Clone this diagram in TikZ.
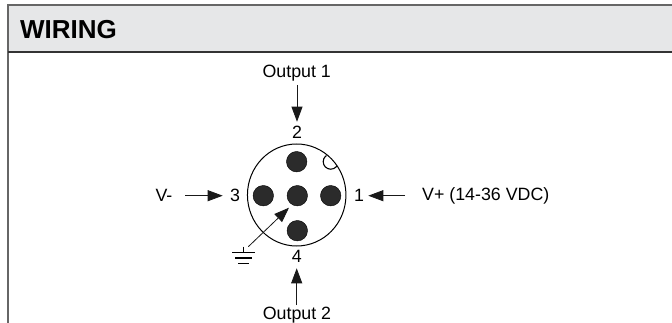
\documentclass[tikz,border=0pt]{standalone}
\usepackage{fontspec}
\setmainfont{Liberation Sans}
\usetikzlibrary{arrows.meta}
\definecolor{hdr}{HTML}{E6E7E8}
\definecolor{pin}{HTML}{2B2B2B}
\tikzset{
  lbl/.style={inner sep=0pt,font=\fontsize{17.8}{20}\selectfont,text=black},
  pinhole/.style={circle,fill=pin,draw=black,line width=0.4pt,minimum size=20.5pt,inner sep=0pt},
  lead/.style={draw=black!90,line width=0.8pt,-{Triangle[length=15pt,width=11pt]}},
  thin line/.style={draw=black,line width=1.1pt},
}
\begin{document}
\begin{tikzpicture}[x=1pt,y=-1pt]
\useasboundingbox (0,0) rectangle (672,323);
\fill[white] (0,0) rectangle (672,323);
% header
\fill[hdr] (8,5) rectangle (672,52);
\draw[black!60,line width=1.8pt] (7,5) -- (672,5);
\draw[black!60,line width=1.8pt] (8,5) -- (8,323);
\draw[black!80,line width=1.8pt] (8,52) -- (672,52);
\node[anchor=west,inner sep=0pt,font=\fontsize{26}{30}\bfseries\selectfont] (title) at (20,30) {WIRING};
% connector body
\node[draw=black,line width=1pt,circle,minimum size=100pt,inner sep=0pt,xscale=0.985,yscale=1.02] (body) at (296.7,195) {};
\begin{scope}
  \clip (296.7,195) circle (49.5);
  \draw[thin line] (330.7,161.7) circle (7.5);
\end{scope}
\node[pinhole] (p2) at (296.7,161.7) {};
\node[pinhole] (p5) at (297.3,195.7) {};
\node[pinhole] (p3) at (263.3,195.7) {};
\node[pinhole] (p1) at (330.7,195.7) {};
\node[pinhole] (p4) at (297.3,230.7) {};
% labels
\node[lbl] (out1) at (296.7,73) {Output 1};
\node[lbl] (out2) at (297,315) {Output 2};
\node[lbl] (n2) at (297,132.7) {2};
\node[lbl] (n3) at (235,195.7) {3};
\node[lbl] (n1) at (359,195.7) {1};
\node[lbl] (n4) at (296.7,256.7) {4};
\node[lbl] (vm) at (164,195.7) {V-};
\node[lbl,anchor=west] (vp) at (422,195.7) {V+ (14-36 VDC)};
% arrows
\coordinate (a1s) at (297,85);   \coordinate (a1e) at (297,121.7);
\coordinate (a4s) at (296.7,305);\coordinate (a4e) at (296.7,268.3);
\coordinate (a3s) at (185,195.7);\coordinate (a3e) at (222.7,195.7);
\coordinate (a2s) at (405,195.7);\coordinate (a2e) at (368.3,195.7);
\coordinate (gs) at (248.3,246.7);\coordinate (ge) at (289,207.7);
\draw[lead] (a1s) -- (a1e);
\draw[lead] (a4s) -- (a4e);
\draw[lead] (a3s) -- (a3e);
\draw[lead] (a2s) -- (a2e);
\draw[lead] (gs) -- (ge);
% ground
\coordinate (g0) at (243.3,246.7);
\coordinate (g1) at (243.3,252.5);
\draw[thin line] (g0) -- (g1);
\draw[thin line] (232,252.5) -- (255,252.5);
\draw[thin line] (235,258) -- (252,258);
\draw[thin line] (238,263.5) -- (249,263.5);
\end{tikzpicture}
\end{document}
